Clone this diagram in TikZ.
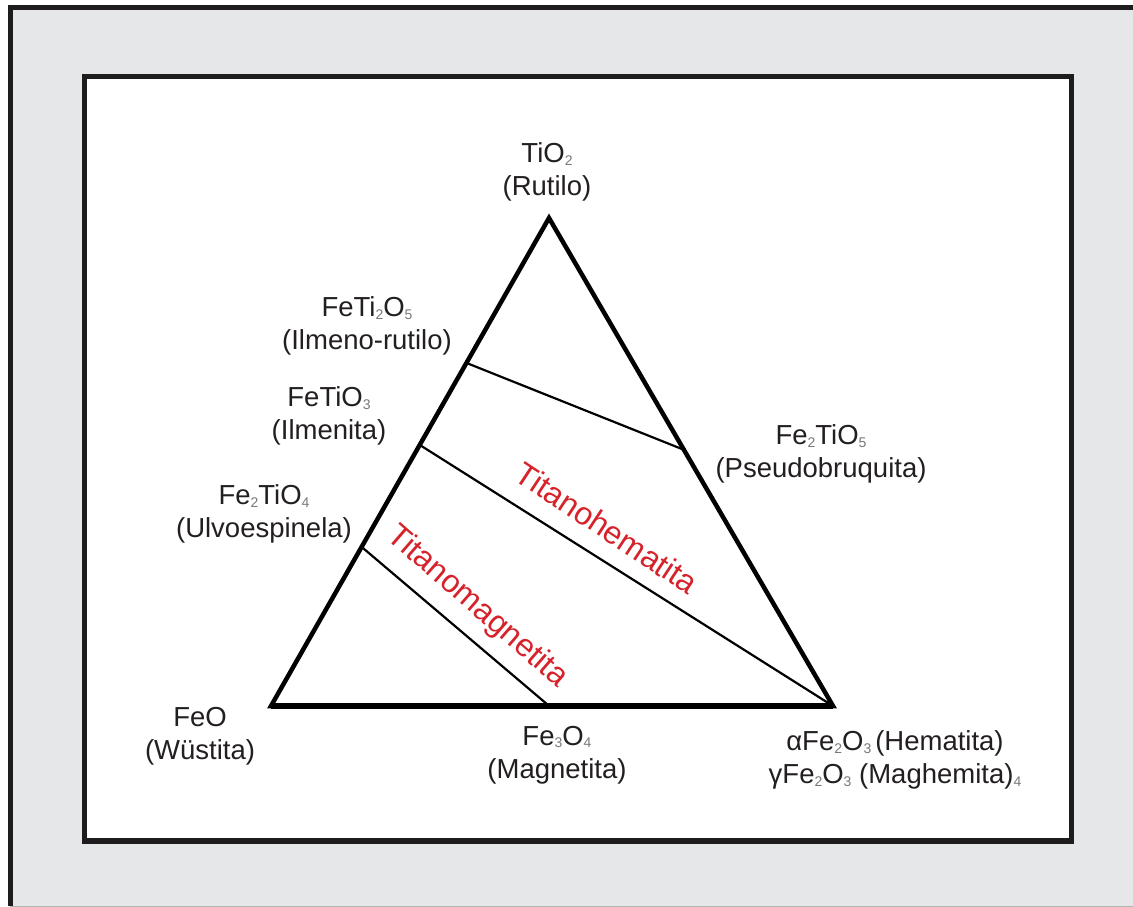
\documentclass[tikz,border=0pt]{standalone}
\usepackage{fontspec}
\setmainfont{Liberation Sans}
\usetikzlibrary{calc}
\definecolor{panel}{RGB}{230,231,232}
\definecolor{frameink}{RGB}{30,28,29}
\definecolor{ink}{RGB}{35,31,32}
\definecolor{subink}{RGB}{120,120,120}
\definecolor{phase}{RGB}{214,34,42}
% small grey chemical subscript
\newcommand{\csub}[1]{\raisebox{-2.5pt}{\fontsize{14}{14}\selectfont\textcolor{subink}{#1}}}

\begin{document}
\begin{tikzpicture}[x=1pt,y=-1pt,
  mineral/.style={font=\fontsize{27.5}{33}\selectfont, text=ink, align=center, inner sep=0pt},
  phaselabel/.style={font=\fontsize{32}{36}\selectfont, text=phase, inner sep=0pt},
  sideline/.style={draw=black, line width=4.5pt, line join=miter},
  tieline/.style={draw=black, line width=2.2pt}]
\useasboundingbox (0,0) rectangle (1133,907);
\fill[white] (0,0) rectangle (1133,907);

% grey panel and its frame
\fill[panel] (10,7.5) rectangle (1133,906);
\draw[frameink, line width=5pt] (10,906) -- (10,7.5) -- (1133,7.5);
\draw[gray!60, line width=1pt] (10,906) -- (1133,906);

% white plotting area
\draw[frameink, line width=5.5pt, fill=white] (84.5,76.7) rectangle (1071.5,841);

% ternary triangle FeO - TiO2 - Fe2O3
\coordinate (A) at (271,706);
\coordinate (B) at (549,218);
\coordinate (C) at (833,706);
\draw[sideline] (A) -- (B) -- (C) -- cycle;
\draw[black, line width=5.5pt] (A) -- (C);

% solid-solution joins
\coordinate (p1) at ($(A)!0.703!(B)$);
\coordinate (q1) at ($(B)!0.475!(C)$);
\coordinate (p2) at ($(A)!0.535!(B)$);
\coordinate (p3) at ($(A)!0.326!(B)$);
\coordinate (q3) at ($(A)!0.495!(C)$);
\draw[tieline] (p1) -- (q1);
\draw[tieline] (p2) -- (C);
\draw[tieline] (p3) -- (q3);

% end members and intermediate phases
\node[mineral] (rutilo) at (547,172) {TiO\csub{2}\\(Rutilo)};
\node[mineral] (ilmrut) at (367,326) {FeTi\csub{2}O\csub{5}\\(Ilmeno-rutilo)};
\node[mineral] (ilmenita) at (329,416) {FeTiO\csub{3}\\(Ilmenita)};
\node[mineral] (ulvo) at (264,514) {Fe\csub{2}TiO\csub{4}\\(Ulvoespinela)};
\node[mineral] (pseudo) at (821,454) {Fe\csub{2}TiO\csub{5}\\(Pseudobruquita)};
\node[mineral] (wustita) at (200,736) {FeO\\(Wüstita)};
\node[mineral] (magnetita) at (557,755) {Fe\csub{3}O\csub{4}\\(Magnetita)};
\node[mineral] (hematita) at (895,760) {αFe\csub{2}O\csub{3}\hspace{4pt}(Hematita)\\γFe\csub{2}O\csub{3} (Maghemita)\csub{4}};

% solid-solution series
\node[phaselabel, rotate=-33.5] (thm) at (607,528) {Titanohematita};
\node[phaselabel, rotate=-41] (tmg) at (477,607) {Titanomagnetita};
\end{tikzpicture}
\end{document}
